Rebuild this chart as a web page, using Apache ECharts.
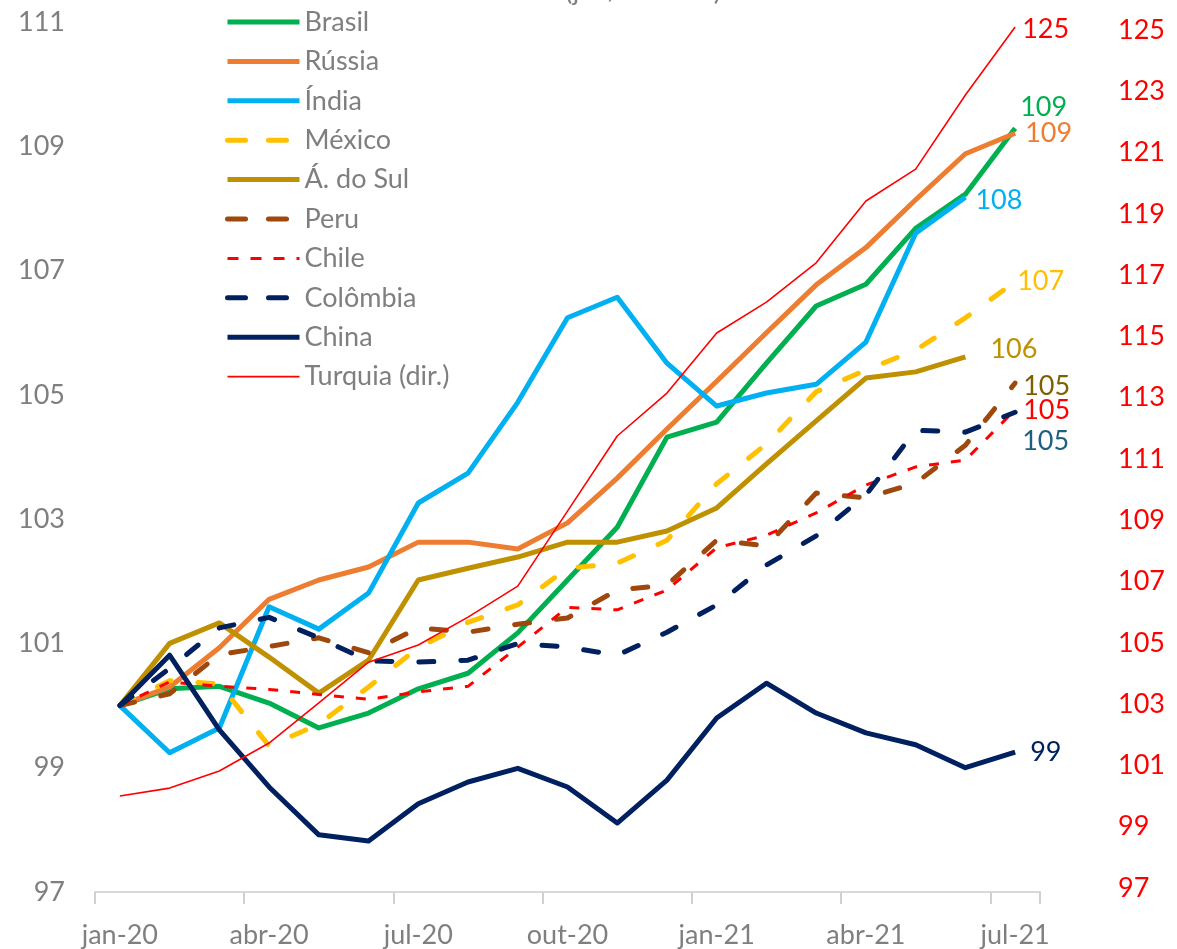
<!DOCTYPE html>
<html>
<head>
<meta charset="utf-8">
<script src="https://cdn.jsdelivr.net/npm/echarts@6/dist/echarts.min.js"></script>
<style>
  html, body { margin: 0; padding: 0; background: #fff; }
  #main { width: 1177px; height: 949px; }
</style>
</head>
<body>
<div id="main"></div>
<script>
// indices jan/20 = 100
var months = ['jan-20', 'fev-20', 'mar-20', 'abr-20', 'mai-20', 'jun-20', 'jul-20', 'ago-20', 'set-20',
  'out-20', 'nov-20', 'dez-20', 'jan-21', 'fev-21', 'mar-21', 'abr-21', 'mai-21', 'jun-21', 'jul-21'];

var brasil   = [100, 100.27, 100.31, 100.04, 99.64, 99.88, 100.27, 100.52, 101.17, 102.02, 102.87, 104.32, 104.56, 105.51, 106.43, 106.78, 107.68, 108.23, 109.29];
var russia   = [100, 100.3, 100.93, 101.71, 102.02, 102.23, 102.63, 102.63, 102.52, 102.94, 103.66, 104.45, 105.22, 106.0, 106.77, 107.37, 108.14, 108.88, 109.21];
var india    = [100, 99.24, 99.64, 101.59, 101.23, 101.81, 103.26, 103.74, 104.88, 106.24, 106.57, 105.51, 104.82, 105.03, 105.17, 105.85, 107.6, 108.18];
var mexico   = [100, 100.4, 100.35, 99.35, 99.7, 100.3, 100.93, 101.34, 101.62, 102.21, 102.29, 102.66, 103.57, 104.21, 105.05, 105.4, 105.72, 106.24, 106.82];
var africaSul = [100, 101.0, 101.33, 100.78, 100.2, 100.73, 102.02, 102.21, 102.39, 102.63, 102.63, 102.81, 103.18, 103.89, 104.58, 105.27, 105.37, 105.61];
var peru     = [100, 100.19, 100.82, 100.95, 101.09, 100.85, 101.25, 101.18, 101.31, 101.41, 101.86, 101.94, 102.66, 102.57, 103.42, 103.34, 103.58, 104.19, 105.19];
var chile    = [100, 100.38, 100.31, 100.26, 100.18, 100.1, 100.22, 100.31, 100.94, 101.58, 101.54, 101.86, 102.54, 102.74, 103.1, 103.55, 103.84, 103.95, 104.76];
var colombia = [100, 100.6, 101.25, 101.42, 101.09, 100.72, 100.7, 100.73, 101.0, 100.94, 100.81, 101.18, 101.62, 102.26, 102.73, 103.39, 104.43, 104.4, 104.72];
var china    = [100, 100.81, 99.61, 98.69, 97.92, 97.82, 98.42, 98.77, 98.99, 98.69, 98.11, 98.8, 99.8, 100.36, 99.88, 99.56, 99.37, 99.0, 99.25];
var turquia  = [100, 100.26, 100.82, 101.73, 103.04, 104.37, 104.93, 105.84, 106.85, 109.3, 111.75, 113.15, 115.11, 116.12, 117.4, 119.42, 120.46, 122.88, 125.1];

var rightTicks = [97, 99, 101, 103, 105, 107, 109, 111, 113, 115, 117, 119, 121, 123, 125];

var FONT = 'Lato, "Open Sans", sans-serif';
var GREY = '#7f7f7f';
var LONG_DASH = [15, 27];
var SHORT_DASH = [10, 12];

function lineStyleOf(color, width, dash) {
  return {
    color: color,
    width: width,
    type: dash || 'solid',
    cap: dash && width >= 5 ? 'round' : 'butt',
    join: 'round'
  };
}

function line(name, data, color, width, dash, labelColor, offset, axis) {
  return {
    name: name,
    type: 'line',
    data: data,
    yAxisIndex: axis || 0,
    symbol: 'none',
    showSymbol: false,
    lineStyle: lineStyleOf(color, width, dash),
    itemStyle: { color: color },
    endLabel: {
      show: true,
      formatter: function (p) { return Math.round(p.value); },
      color: labelColor,
      fontSize: 27,
      fontFamily: FONT,
      distance: 5,
      offset: offset
    }
  };
}

var series = [
  line('Brasil', brasil, '#00b050', 5, null, '#00b050', [0, -21]),
  line('Rússia', russia, '#ed7d31', 5, null, '#ed7d31', [5, 0]),
  line('Índia', india, '#00b0f0', 5, null, '#00b0f0', [5, 3]),
  line('México', mexico, '#ffc000', 5, LONG_DASH, '#ffc000', [-3, 0]),
  line('Á. do Sul', africaSul, '#bf9000', 5, null, '#bf9000', [20, -8]),
  line('Peru', peru, '#9e480e', 5, LONG_DASH, '#7f6000', [3, 3]),
  line('Chile', chile, '#ff0000', 3, SHORT_DASH, '#ff0000', [3, 1]),
  line('Colômbia', colombia, '#002060', 5, LONG_DASH, '#1f5f80', [2, 29]),
  line('China', china, '#002060', 5, null, '#002060', [10, 0]),
  line('Turquia (dir.)', turquia, '#ff0000', 1.6, null, '#ff0000', [2, 2], 1)
];

// legend keys: plain line, no marker
var legendData = series.map(function (s) {
  var ls = Object.assign({}, s.lineStyle);
  if (ls.type === LONG_DASH) ls.type = [18, 23];
  if (ls.type === SHORT_DASH) ls.type = [11, 12];
  return { name: s.name, itemStyle: { opacity: 0 }, lineStyle: ls };
});

var chart = echarts.init(document.getElementById('main'));
chart.setOption({
  animation: false,
  backgroundColor: '#fff',
  grid: { left: 95, right: 137, top: 22, bottom: 57 },
  graphic: [{
    type: 'text', left: 565, top: -22,
    style: { text: '(jan/20=100)', fontSize: 27, fontFamily: FONT, fill: GREY }
  }],
  legend: {
    orient: 'vertical',
    left: 220,
    top: 2,
    itemWidth: 72,
    itemHeight: 14,
    itemGap: 9.4,
    itemTextGap: 6,
    textStyle: { color: GREY, fontSize: 27, fontFamily: FONT, lineHeight: 30 },
    data: legendData
  },
  xAxis: {
    type: 'category',
    data: months,
    boundaryGap: true,
    axisLine: { lineStyle: { color: '#d9d9d9', width: 2 } },
    axisTick: { show: true, interval: 2, length: 12, lineStyle: { color: '#d0d0d0', width: 2 } },
    axisLabel: { interval: 2, color: GREY, fontSize: 27, fontFamily: FONT, margin: 30 }
  },
  yAxis: [{
    type: 'value',
    min: 97,
    max: 111,
    interval: 2,
    axisLine: { show: false },
    axisTick: { show: false },
    splitLine: { show: false },
    axisLabel: { color: GREY, fontSize: 27, fontFamily: FONT, margin: 30 }
  }, {
    type: 'value',
    position: 'right',
    min: 96.87,
    max: 125.26,
    axisLine: { show: false },
    axisTick: { show: false },
    splitLine: { show: false },
    axisLabel: { color: '#ff0000', fontSize: 27, fontFamily: FONT, margin: 78, customValues: rightTicks }
  }],
  series: series
});
</script>
</body>
</html>
